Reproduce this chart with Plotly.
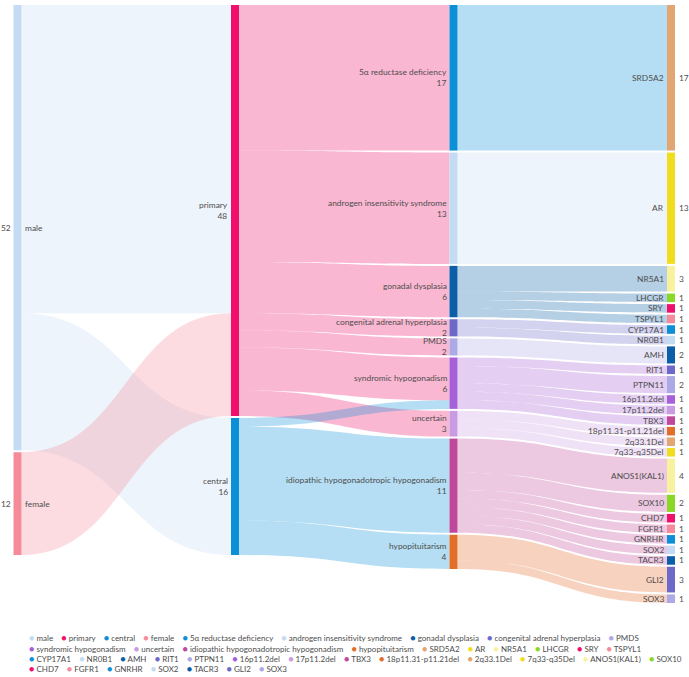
import plotly.graph_objects as go

# ---------------- data ----------------
node_names = [
    "male", "primary", "central", "female",
    "5α reductase deficiency", "androgen insensitivity syndrome", "gonadal dysplasia",
    "congenital adrenal hyperplasia", "PMDS", "syndromic hypogonadism", "uncertain",
    "idiopathic hypogonadotropic hypogonadism", "hypopituitarism",
    "SRD5A2", "AR", "NR5A1", "LHCGR", "SRY", "TSPYL1", "CYP17A1", "NR0B1", "AMH",
    "RIT1", "PTPN11", "16p11.2del", "17p11.2del", "TBX3", "18p11.31-p11.21del",
    "2q33.1Del", "7q33-q35Del", "ANOS1(KAL1)", "SOX10", "CHD7", "FGFR1", "GNRHR",
    "SOX2", "TACR3", "GLI2", "SOX3",
]

link_source = [
    "male", "male", "female",
    "primary", "primary", "primary", "primary", "primary", "primary", "primary",
    "central", "central", "central",
    "5α reductase deficiency", "androgen insensitivity syndrome",
    "gonadal dysplasia", "gonadal dysplasia", "gonadal dysplasia", "gonadal dysplasia",
    "congenital adrenal hyperplasia", "congenital adrenal hyperplasia",
    "PMDS",
    "syndromic hypogonadism", "syndromic hypogonadism", "syndromic hypogonadism",
    "syndromic hypogonadism", "syndromic hypogonadism",
    "uncertain", "uncertain", "uncertain",
    "idiopathic hypogonadotropic hypogonadism", "idiopathic hypogonadotropic hypogonadism",
    "idiopathic hypogonadotropic hypogonadism", "idiopathic hypogonadotropic hypogonadism",
    "idiopathic hypogonadotropic hypogonadism", "idiopathic hypogonadotropic hypogonadism",
    "idiopathic hypogonadotropic hypogonadism",
    "hypopituitarism", "hypopituitarism",
]
link_target = [
    "primary", "central", "primary",
    "5α reductase deficiency", "androgen insensitivity syndrome", "gonadal dysplasia",
    "congenital adrenal hyperplasia", "PMDS", "syndromic hypogonadism", "uncertain",
    "syndromic hypogonadism", "idiopathic hypogonadotropic hypogonadism", "hypopituitarism",
    "SRD5A2", "AR",
    "NR5A1", "LHCGR", "SRY", "TSPYL1",
    "CYP17A1", "NR0B1",
    "AMH",
    "RIT1", "PTPN11", "16p11.2del", "17p11.2del", "TBX3",
    "18p11.31-p11.21del", "2q33.1Del", "7q33-q35Del",
    "ANOS1(KAL1)", "SOX10", "CHD7", "FGFR1", "GNRHR", "SOX2", "TACR3",
    "GLI2", "SOX3",
]
link_value = [
    36, 16, 12,
    17, 13, 6, 2, 2, 5, 3,
    1, 11, 4,
    17, 13,
    3, 1, 1, 1,
    1, 1,
    2,
    1, 2, 1, 1, 1,
    1, 1, 1,
    4, 2, 1, 1, 1, 1, 1,
    3, 1,
]

# ---------------- style ----------------
C = {
    "magenta": "#f0106b", "pink": "#f58b99", "blue": "#0b8fd7", "lightblue": "#c4dcf3",
    "darkblue": "#0b5fa9", "purpleblue": "#6c69c9", "lavender": "#aba9e6",
    "purple": "#a660d8", "lightpurple": "#c99be2", "magentapurple": "#c0489b",
    "orange": "#e36e2a", "tan": "#e2a673", "yellow": "#f0dd1e", "lightyellow": "#f8f19d",
    "green": "#88d825",
}
node_colors = [C[k] for k in [
    "lightblue", "magenta", "blue", "pink",
    "blue", "lightblue", "darkblue", "purpleblue", "lavender", "purple", "lightpurple",
    "magentapurple", "orange",
    "tan", "yellow", "lightyellow", "green", "magenta", "pink", "blue", "lightblue",
    "darkblue", "purpleblue", "lavender", "purple", "lightpurple", "magentapurple",
    "orange", "tan", "yellow", "lightyellow", "green", "magenta", "pink", "blue",
    "lightblue", "darkblue", "purpleblue", "lavender",
]]

W, H = 689, 677
TOP, BOTTOM = 5, 603          # px extent of the sankey
PAD = 2                       # node gap px
NODE_W = 8
COL_X = [17.5, 235, 453.5, 671]
TEXT = "#4d4d4d"
FONT = "Lato"
FS = 8.4
LFONT = "Lato"
LFS = 8
LEGEND_ROWS = [9, 10, 13, 7]
LEGEND_Y = [637, 648, 658, 668]
LEGEND_X = 27


def rgba(hx, a):
    hx = hx.lstrip("#")
    return "rgba(%d,%d,%d,%.2f)" % (int(hx[0:2], 16), int(hx[2:4], 16), int(hx[4:6], 16), a)


idx = {n: i for i, n in enumerate(node_names)}
n_nodes = len(node_names)
inflow = [0] * n_nodes
outflow = [0] * n_nodes
for s, t, v in zip(link_source, link_target, link_value):
    outflow[idx[s]] += v
    inflow[idx[t]] += v
node_value = [max(a, b) for a, b in zip(inflow, outflow)]

depth = [0] * n_nodes
for _ in range(n_nodes):
    for s, t in zip(link_source, link_target):
        depth[idx[t]] = max(depth[idx[t]], depth[idx[s]] + 1)
n_cols = max(depth) + 1
columns = [[i for i in range(n_nodes) if depth[i] == c] for c in range(n_cols)]

Hd = BOTTOM - TOP
max_n = max(len(c) for c in columns)
total = max(sum(node_value[i] for i in c) for c in columns)
ky = (Hd - (max_n - 1) * PAD) / total

node_x = [0] * n_nodes
node_y = [0] * n_nodes
center_px = [0] * n_nodes
for c, col in enumerate(columns):
    y0 = 0
    for i in col:
        h = node_value[i] * ky
        center_px[i] = y0 + h / 2
        node_y[i] = center_px[i] / Hd
        node_x[i] = COL_X[c] / W
        y0 += h + PAD

fig = go.Figure(go.Sankey(
    arrangement="fixed",
    domain=dict(x=[0, 1], y=[1 - BOTTOM / H, 1 - TOP / H]),
    node=dict(
        label=["" for _ in node_names],
        customdata=node_names,
        hovertemplate="%{customdata}: %{value}<extra></extra>",
        color=node_colors,
        x=node_x, y=node_y,
        pad=PAD, thickness=NODE_W,
        line=dict(width=0),
    ),
    link=dict(
        source=[idx[s] for s in link_source],
        target=[idx[t] for t in link_target],
        value=link_value,
        color=[rgba(node_colors[idx[s]], 0.3) for s in link_source],
    ),
))

ann = []
font = dict(family=FONT, size=FS, color=TEXT)
for i, name in enumerate(node_names):
    c = depth[i]
    ypaper = 1 - (TOP + center_px[i]) / H
    left_edge = COL_X[c] - NODE_W / 2
    right_edge = COL_X[c] + NODE_W / 2
    if c == 0:
        ann.append(dict(x=(right_edge + 1) / W, y=ypaper, text=name, xanchor="left"))
        ann.append(dict(x=(left_edge - 1) / W, y=ypaper, text=str(node_value[i]), xanchor="right"))
    elif c == n_cols - 1:
        ann.append(dict(x=(left_edge - 1) / W, y=ypaper, text=name, xanchor="right"))
        ann.append(dict(x=(right_edge + 2) / W, y=ypaper, text=str(node_value[i]), xanchor="left"))
    else:
        ann.append(dict(x=(left_edge - 1) / W, y=ypaper, text=name + "<br>" + str(node_value[i]),
                        xanchor="right", align="right"))
for a in ann:
    a.update(xref="paper", yref="paper", yanchor="middle", showarrow=False, font=font)

# legend rows
k = 0
for r, cnt in enumerate(LEGEND_ROWS):
    parts = []
    for i in range(k, k + cnt):
        parts.append("<span style='color:%s;font-size:9px'>●</span>\u00a0%s" % (node_colors[i], node_names[i]))
    k += cnt
    ann.append(dict(x=LEGEND_X / W, y=1 - LEGEND_Y[r] / H, xref="paper", yref="paper",
                    xanchor="left", yanchor="middle", showarrow=False,
                    text="\u00a0\u00a0\u00a0\u00a0".join(parts),
                    font=dict(family=LFONT, size=LFS, color=TEXT)))

fig.update_layout(
    width=W, height=H,
    margin=dict(l=0, r=0, t=0, b=0),
    paper_bgcolor="white",
    annotations=ann,
    showlegend=False,
)
fig.write_html("out.html", config={"displayModeBar": False},
               post_script="document.body.style.margin='0';")
